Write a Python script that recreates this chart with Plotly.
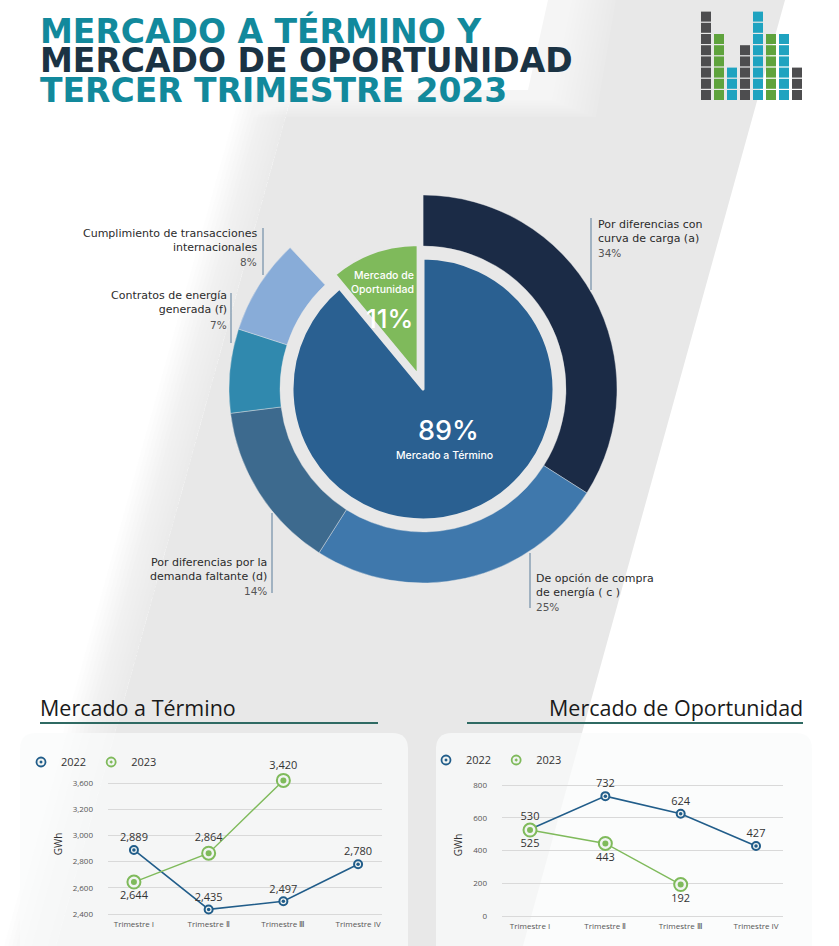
import plotly.graph_objects as go

W, H = 839, 946
def X(px): return px / W
def Y(py): return 1 - py / H

# ---------------- data ----------------
title_lines = ["MERCADO A TÉRMINO Y", "MERCADO DE OPORTUNIDAD", "TERCER TRIMESTRE 2023"]

inner_labels = ["Mercado a Término", "Mercado de Oportunidad"]
inner_values = [89, 11]

ring_names = ["Por diferencias con curva de carga (a)",
              "De opción de compra de energía ( c )",
              "Por diferencias por la demanda faltante (d)",
              "Contratos de energía generada (f)",
              "Cumplimiento de transacciones internacionales"]
ring_values = [34, 25, 14, 7, 8]
ring_label_lines = [["Por diferencias con", "curva de carga (a)"],
                    ["De opción de compra", "de energía ( c )"],
                    ["Por diferencias por la", "demanda faltante (d)"],
                    ["Contratos de energía", "generada (f)"],
                    ["Cumplimiento de transacciones", "internacionales"]]

quarters = ["Trimestre I", "Trimestre Ⅱ", "Trimestre Ⅲ", "Trimestre IV"]
years = ["2022", "2023"]
mt_2022 = [2889, 2435, 2497, 2780]
mt_2023 = [2644, 2864, 3420]
mo_2022 = [530, 732, 624, 427]
mo_2023 = [525, 443, 192]
mt_tickvals = [2400, 2600, 2800, 3000, 3200, 3400]
mt_ticktext = ["2,400", "2,600", "2,800", "3,000", "3,200", "3,600"]
mo_tickvals = [0, 200, 400, 600, 800]

logo_counts = [8, 6, 3, 5, 8, 6, 6, 3]
logo_kinds = ["g", "v", "t", "g", "t", "v", "t", "g"]

# ---------------- styles ----------------
FONT = "Open Sans"
LBL_FONT = "DejaVu Sans"
C22 = "#215d8a"
C23 = "#7fba5b"
BAND = "#e8e8e8"
ring_colors = ["#1b2b46", "#3f78ac", "#3d6a8e", "#3089ae", "#88acd8"]
inner_colors = ["#2a6091", "#7fba5b"]
logo_palette = {"g": "#4d4d4f", "v": "#5fa33d", "t": "#1fa3c0"}

CX, CY = 423, 389
R_OUT, R_IN_RING, R_PIE, PULL = 194, 143, 131, 0.11

fig = go.Figure()

# ---------------- donut ring ----------------
fig.add_trace(go.Pie(
    values=ring_values + [100 - sum(ring_values)],
    labels=ring_names + [" "],
    sort=False, direction="clockwise", rotation=0,
    hole=R_IN_RING / R_OUT,
    marker=dict(colors=ring_colors + ["rgba(0,0,0,0)"], line=dict(color=BAND, width=0.4)),
    textinfo="none", hoverinfo="skip", showlegend=False,
    domain=dict(x=[X(CX - R_OUT), X(CX + R_OUT)], y=[Y(CY + R_OUT), Y(CY - R_OUT)]),
))

# ---------------- inner pie ----------------
half = R_PIE * (1 + PULL)
fig.add_trace(go.Pie(
    values=inner_values, labels=inner_labels,
    sort=False, direction="clockwise", rotation=0,
    pull=[0, PULL],
    marker=dict(colors=inner_colors, line=dict(color=BAND, width=3)),
    textinfo="none", hoverinfo="skip", showlegend=False,
    domain=dict(x=[X(CX - half), X(CX + half)], y=[Y(CY + half), Y(CY - half)]),
))

# ---------------- line charts ----------------
def add_series(xa, ya, yvals, color, size, dot, width, positions):
    fig.add_trace(go.Scatter(
        x=quarters[:len(yvals)], y=yvals, mode="lines+markers+text",
        line=dict(color=color, width=width),
        marker=dict(symbol="circle", size=size, color="#f1f4f2", line=dict(color=color, width=2)),
        texttemplate="%{y:,}", textposition=positions,
        textfont=dict(family=FONT, size=11, color="#333"),
        cliponaxis=False, showlegend=False, hoverinfo="skip", xaxis=xa, yaxis=ya))
    fig.add_trace(go.Scatter(
        x=quarters[:len(yvals)], y=yvals, mode="markers",
        marker=dict(symbol="circle", size=dot, color=color),
        cliponaxis=False, showlegend=False, hoverinfo="skip", xaxis=xa, yaxis=ya))

def add_legend_items(xa, ya, legend):
    for name, color in zip(years, [C22, C23]):
        fig.add_trace(go.Scatter(
            x=[None], y=[None], mode="markers", name=name,
            marker=dict(symbol="circle-dot", size=9, color="#f1f4f2", line=dict(color=color, width=1.8)),
            legend=legend, xaxis=xa, yaxis=ya, hoverinfo="skip"))

add_series("x", "y", mt_2022, C22, 8, 3.5, 1.6, ["top center"] * 4)
add_series("x", "y", mt_2023, C23, 13, 6, 1.4, ["bottom center", "top center", "top center"])
add_legend_items("x", "y", "legend")
add_series("x2", "y2", mo_2022, C22, 8, 3.5, 1.6, ["top center"] * 4)
add_series("x2", "y2", mo_2023, C23, 13, 6, 1.4, ["bottom center"] * 3)
add_legend_items("x2", "y2", "legend2")

# ---------------- logo ----------------
lx, ly, lc = [], [], []
for i, (n, k) in enumerate(zip(logo_counts, logo_kinds)):
    for r in range(n):
        lx.append(i); ly.append(r); lc.append(logo_palette[k])
fig.add_trace(go.Scatter(x=lx, y=ly, mode="markers",
                         marker=dict(symbol="square", size=10, color=lc, line=dict(width=0)),
                         showlegend=False, hoverinfo="skip", xaxis="x3", yaxis="y3"))

# ---------------- background shapes ----------------
shapes = []
def poly(points, fill, opacity=1.0):
    path = "M " + " L ".join(f"{X(px):.5f},{Y(py):.5f}" for px, py in points) + " Z"
    shapes.append(dict(type="path", path=path, xref="paper", yref="paper",
                       fillcolor=fill, opacity=opacity, line=dict(width=0), layer="below"))

# diagonal grey band with soft left edge
for k in range(1, 14):
    poly([(318 - 4 * k, 0), (318, 0), (56, H), (56 - 4 * k, H)], BAND, 0.07)
poly([(318, 0), (785, 0), (523, H), (56, H)], BAND)
# soft white glow behind title (slanted right edge)
for k in range(1, 18):
    poly([(0, 0), (548 + 4 * k, 0), (528 + 4 * k, 90 + 1.6 * k), (0, 90 + 1.6 * k)], "white", 0.09)
poly([(0, 0), (548, 0), (528, 90), (0, 90)], "white")

def rrect(x0, y0, x1, y1, r, fill):
    pts = (f"M {X(x0)},{Y(y0 + r)} Q {X(x0)},{Y(y0)} {X(x0 + r)},{Y(y0)} "
           f"L {X(x1 - r)},{Y(y0)} Q {X(x1)},{Y(y0)} {X(x1)},{Y(y0 + r)} "
           f"L {X(x1)},{Y(y1)} L {X(x0)},{Y(y1)} Z")
    shapes.append(dict(type="path", path=pts, xref="paper", yref="paper",
                       fillcolor=fill, line=dict(width=0), layer="below"))

rrect(20, 733, 408, 960, 16, "rgba(250,251,251,0.75)")
rrect(436, 733, 812, 960, 16, "rgba(250,251,251,0.75)")

# section underlines
for x0, x1 in [(40, 378), (467, 803)]:
    shapes.append(dict(type="line", xref="paper", yref="paper", x0=X(x0), x1=X(x1),
                       y0=Y(723), y1=Y(723), line=dict(color="#2f6a63", width=2)))

# ---------------- annotations ----------------
ann = []
def text(x, y, s, size, color, xanchor="left", family=FONT, weight="normal"):
    ann.append(dict(x=X(x), y=Y(y), xref="paper", yref="paper", text=s, showarrow=False,
                    xanchor=xanchor, yanchor="middle", align=xanchor,
                    font=dict(family=family, size=size, color=color, weight=weight)))

title_colors = ["#12899c", "#1b3344", "#12899c"]
for s, yy, c in zip(title_lines, [31, 61, 91], title_colors):
    text(38, yy, s, 33, c, family="DejaVu Sans", weight="bold")

# ring labels + leader lines
label_layout = [("left", 596, 231, 253, 591, 218, 290),
                ("left", 534, 585, 607, 530, 553, 608),
                ("right", 269, 569, 591, 272, 513, 593),
                ("right", 229, 303, 325, 231, 293, 343),
                ("right", 259, 240, 262, 263, 228, 275)]
for lines, v, (anc, lx0, yname, ypct, vx, vy0, vy1) in zip(ring_label_lines, ring_values, label_layout):
    text(lx0, yname, "<br>".join(lines), 11, "#2b2b2b", anc, family=LBL_FONT)
    text(lx0, ypct, f"{v}%", 10.5, "#555", anc, family=LBL_FONT)
    shapes.append(dict(type="line", xref="paper", yref="paper", x0=X(vx), x1=X(vx),
                       y0=Y(vy0), y1=Y(vy1), line=dict(color="#8aa0b4", width=1.5)))

# inner pie texts
text(448, 431, f"{inner_values[0]}%", 27, "white", "center", family="Inter", weight=500)
text(444, 455, inner_labels[0], 10.5, "white", "center", family="Inter", weight=500)
text(416, 283, "Mercado de<br>Oportunidad", 10.5, "white", "right", family="Inter", weight=500)
text(415, 318, f"{inner_values[1]}%", 26, "white", "right", family="Inter", weight=500)

# section titles
text(38, 707, "Mercado a Término", 21.5, "#1a1a1a", "left")
text(805, 707, "Mercado de Oportunidad", 21.5, "#1a1a1a", "right")

# ---------------- layout ----------------
tick_font = dict(family=FONT, size=8, color="#555")
common_y = dict(showgrid=True, gridcolor="#d9d9d9", gridwidth=1, zeroline=False, showline=False,
                ticks="", tickfont=tick_font, ticklabelstandoff=14,
                title=dict(text="GWh", font=dict(family=FONT, size=10, color="#333"), standoff=8))
common_x = dict(showgrid=False, zeroline=False, showline=False, ticks="", tickfont=tick_font,
                type="category", categoryorder="array", categoryarray=quarters)
legend_common = dict(xanchor="left", yanchor="middle", orientation="h",
                     font=dict(family=FONT, size=11, color="#333"), bgcolor="rgba(0,0,0,0)",
                     itemwidth=30)

fig.update_layout(
    width=W, height=H, margin=dict(l=0, r=0, t=0, b=0),
    paper_bgcolor="white", plot_bgcolor="rgba(0,0,0,0)",
    font=dict(family=FONT, color="#333"), hovermode=False,
    xaxis=dict(domain=[X(108), X(382)], range=[-0.347, 3.32], anchor="y", **common_x),
    yaxis=dict(domain=[Y(918), Y(770)], range=[2369.5, 3499.2], anchor="x",
               tickvals=mt_tickvals, ticktext=mt_ticktext, **common_y),
    xaxis2=dict(domain=[X(502), X(783)], range=[-0.372, 3.358], anchor="y2", **common_x),
    yaxis2=dict(domain=[Y(920), Y(770)], range=[-24.4, 891.6], anchor="x2",
                tickvals=mo_tickvals, **common_y),
    xaxis3=dict(domain=[X(700), X(803)], range=[-0.4615, 7.4615], visible=False, anchor="y3"),
    yaxis3=dict(domain=[Y(101), Y(10)], range=[-0.536, 7.59], visible=False, anchor="x3"),
    legend=dict(x=X(21), y=Y(762), **legend_common),
    legend2=dict(x=X(426), y=Y(760), **legend_common),
    shapes=shapes, annotations=ann,
)

fig.write_html("out.html")
